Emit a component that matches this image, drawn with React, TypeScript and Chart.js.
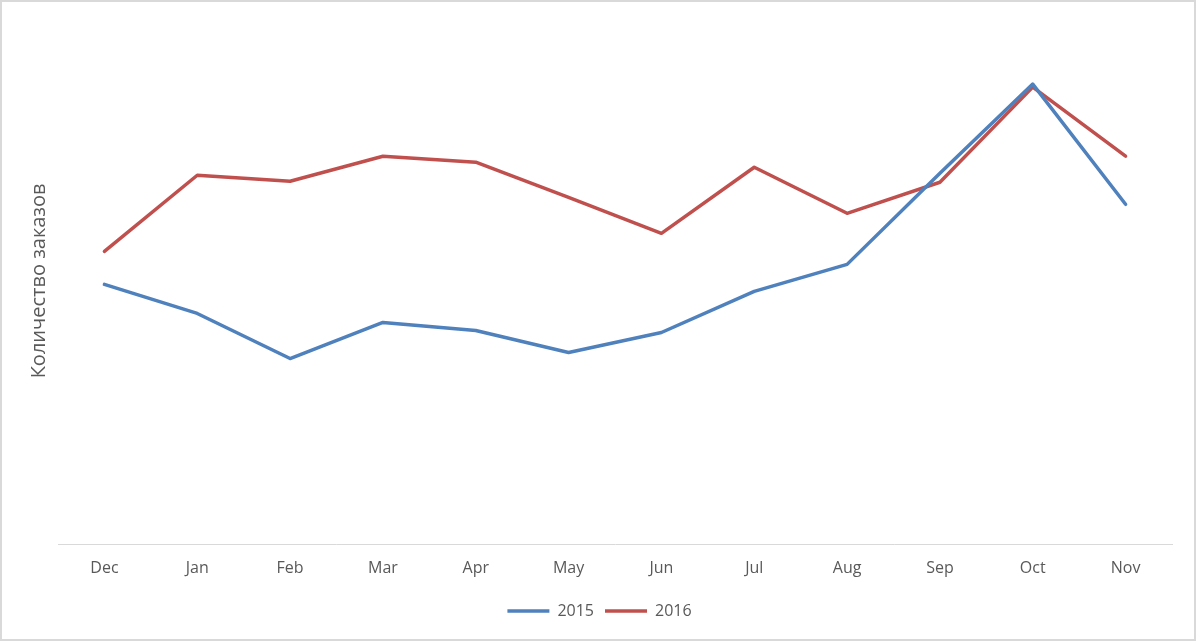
import React, { useEffect, useRef } from "react";
import { Chart, registerables } from "chart.js";

Chart.register(...registerables);

const months = ["Dec", "Jan", "Feb", "Mar", "Apr", "May", "Jun", "Jul", "Aug", "Sep", "Oct", "Nov"];
const series2015 = [260, 231, 186, 222, 214, 192, 212, 253, 280, 371, 460, 340];
const series2016 = [293, 369, 363, 388, 382, 347, 311, 377, 331, 362, 457, 388];
const yTitle = "Количество заказов";

export default function App() {
  const ref = useRef<HTMLCanvasElement>(null);
  useEffect(() => {
    const padLeft = 27;
    const chart = new Chart(ref.current!, {
      type: "line",
      data: {
        labels: months,
        datasets: [
          {
            label: "2015",
            data: series2015,
            borderColor: "#4F81BD",
            backgroundColor: "#4F81BD",
            borderWidth: 3.5,
            borderCapStyle: "round",
            borderJoinStyle: "round",
            pointRadius: 0,
            tension: 0,
          },
          {
            label: "2016",
            data: series2016,
            borderColor: "#C0504D",
            backgroundColor: "#C0504D",
            borderWidth: 3.5,
            borderCapStyle: "round",
            borderJoinStyle: "round",
            pointRadius: 0,
            tension: 0,
          },
        ],
      },
      options: {
        responsive: false,
        animation: false,
        devicePixelRatio: 1,
        layout: { padding: { left: padLeft, right: 24, top: 17, bottom: 12 } },
        plugins: {
          tooltip: { enabled: false },
          legend: {
            position: "bottom",
            labels: {
              usePointStyle: true,
              pointStyle: "line",
              pointStyleWidth: 42,
              color: "#595959",
              font: { family: "'Open Sans'", size: 16 },
              padding: 11,
            },
          },
        },
        scales: {
          x: {
            offset: true,
            grid: { display: false, drawTicks: false },
            border: { display: true, color: "#d9d9d9", width: 1 },
            ticks: {
              color: "#595959",
              font: { family: "'Open Sans'", size: 16 },
              padding: 14,
              maxRotation: 0,
            },
          },
          y: {
            min: 0,
            max: 527,
            grid: { display: false, drawTicks: false },
            border: { display: false },
            ticks: { display: false },
            title: {
              display: true,
              text: yTitle,
              color: "#595959",
              font: { family: "'Open Sans'", size: 20 },
              padding: 0,
            },
            afterFit: (scale: any) => {
              scale.width = 58 - padLeft;
            },
          },
        },
      },
    });
    return () => chart.destroy();
  }, []);
  return (
    <div
      style={{
        position: "absolute",
        left: 0,
        top: 0,
        width: 1196,
        height: 641,
        background: "#fff",
        boxShadow: "inset 0 0 0 2px #d9d9d9",
      }}
    >
      <canvas ref={ref} width={1196} height={641} style={{ display: "block" }} />
    </div>
  );
}
